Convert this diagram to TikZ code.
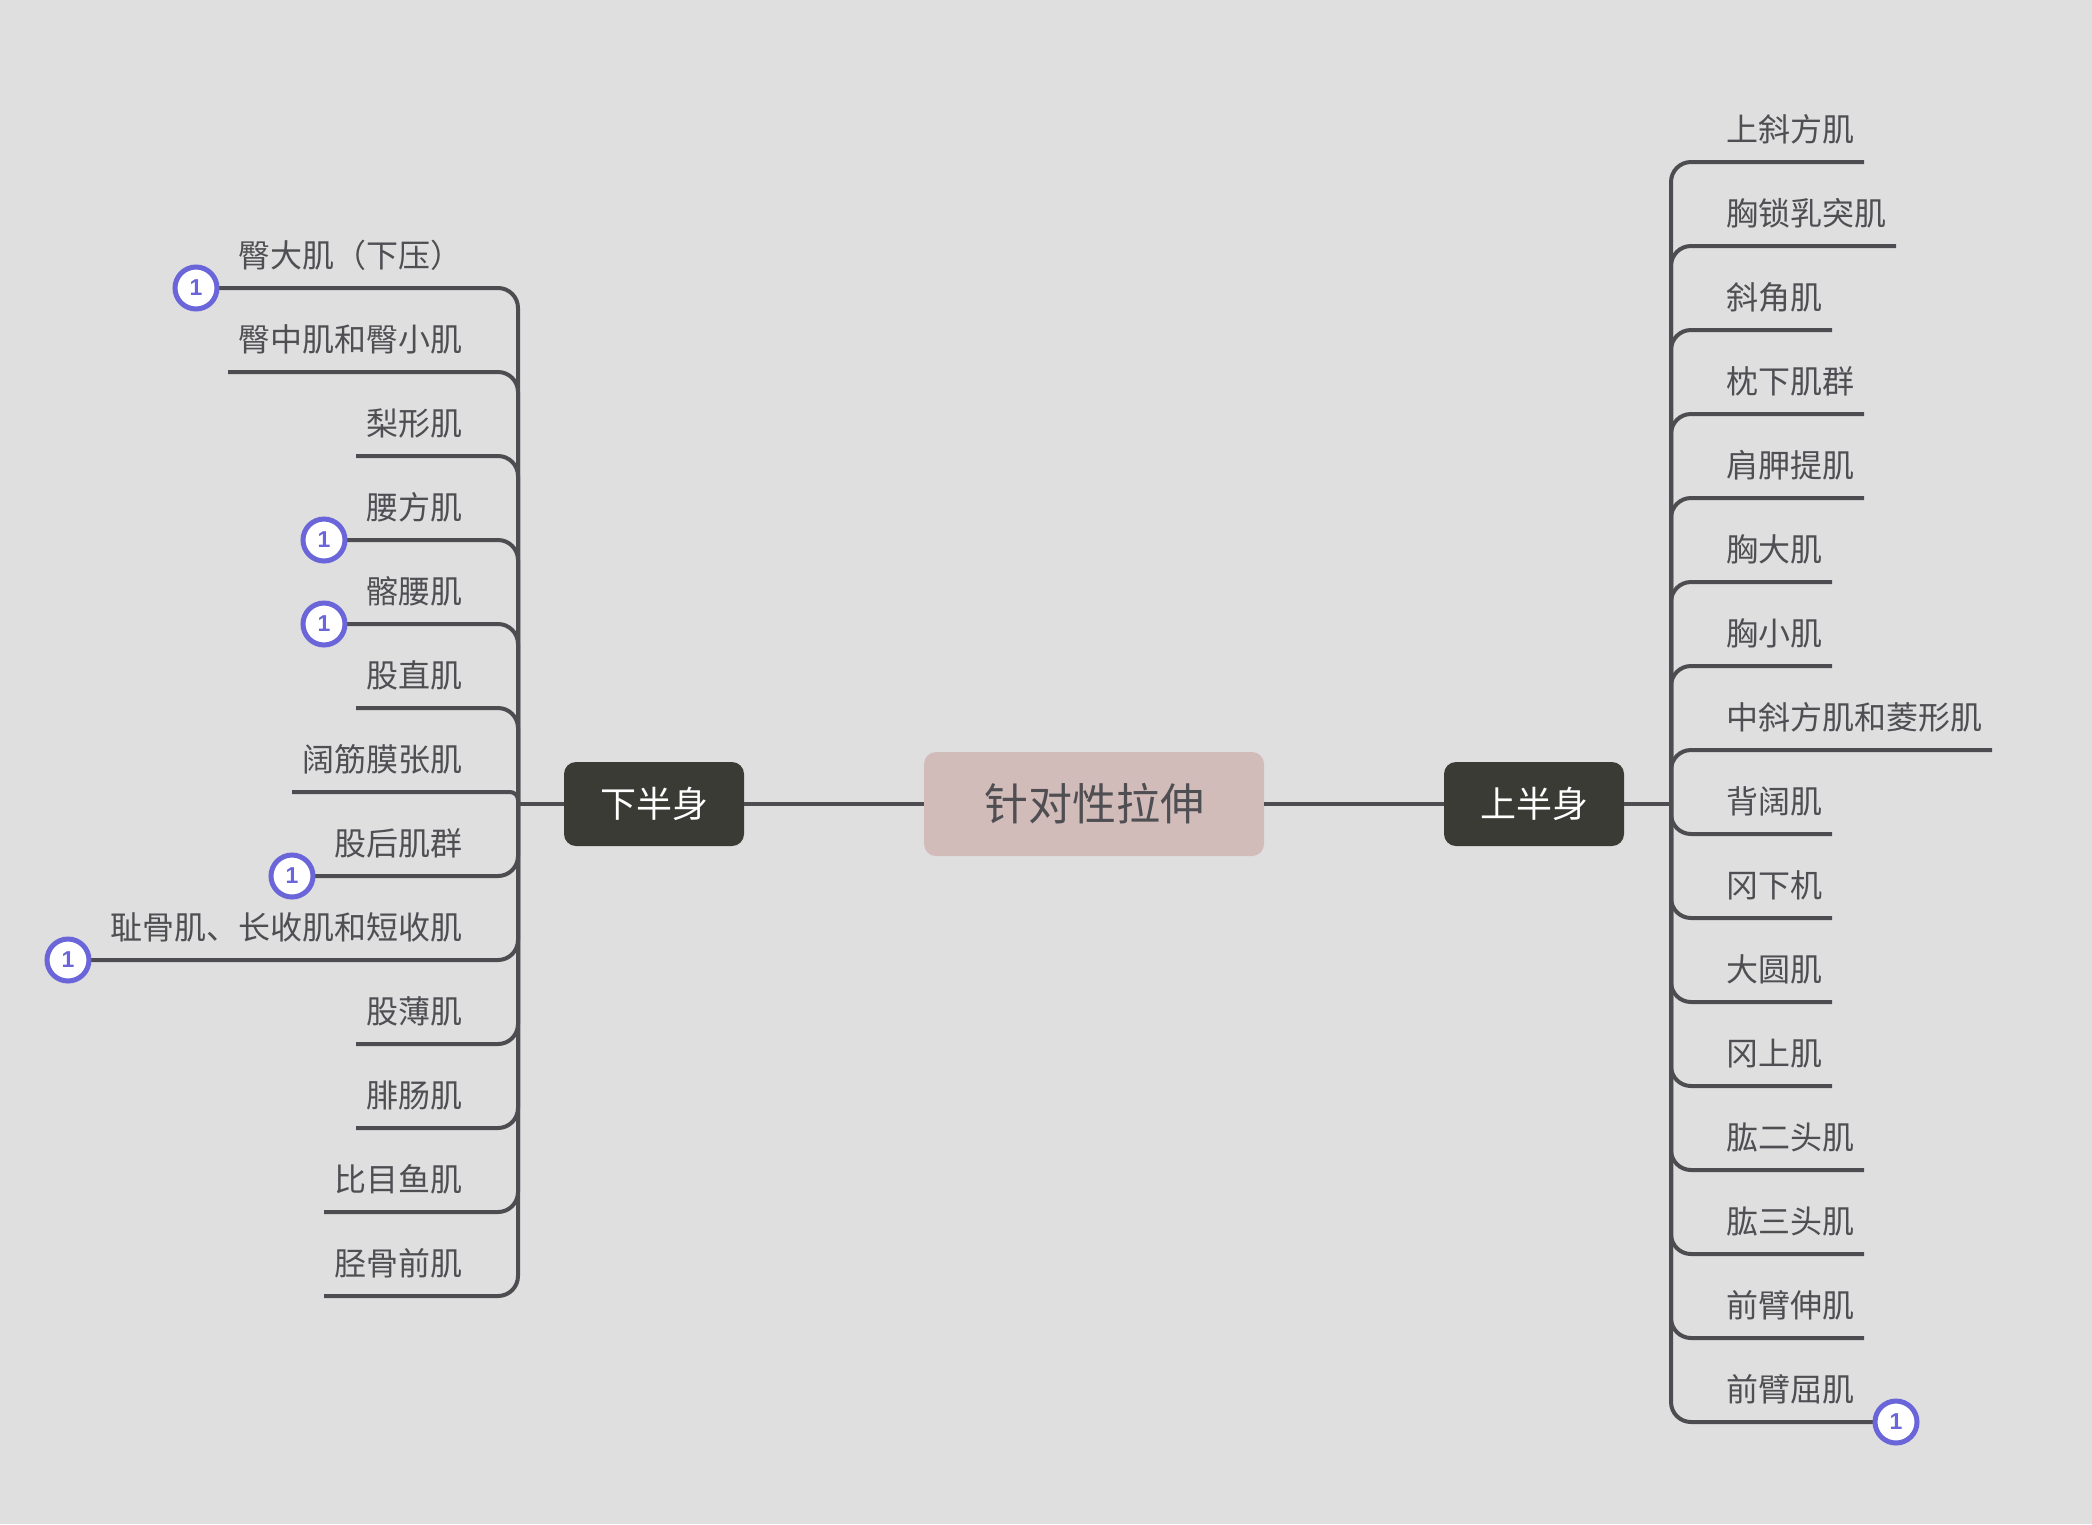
\documentclass[tikz,border=0pt]{standalone}
\usepackage{fontspec}
\setmainfont{Noto Sans CJK SC}
\newfontfamily\badgefont{Liberation Sans}
\definecolor{bgc}{HTML}{DFDFDF}
\definecolor{linec}{HTML}{4D4C50}
\definecolor{txtc}{HTML}{4F4E53}
\definecolor{rootc}{HTML}{D2BCBA}
\definecolor{darkc}{HTML}{393B34}
\definecolor{badgec}{HTML}{6A65D8}
\tikzset{
  conn/.style={draw=linec,line width=4pt},
  rootbox/.style={fill=rootc,rounded corners=12pt,minimum width=340pt,minimum height=104pt,inner sep=0pt,text=txtc,font=\fontsize{44}{44}\selectfont},
  mainbox/.style={fill=darkc,rounded corners=12pt,minimum width=180pt,minimum height=84pt,inner sep=0pt,text=white,font=\fontsize{36}{36}\selectfont},
  leaf/.style={inner sep=0pt,text=txtc,font=\fontsize{32}{32}\selectfont,text height=28pt,text depth=4pt},
  badge/.style={circle,draw=badgec,fill=white,line width=5pt,minimum size=42pt,inner sep=0pt,text=badgec,font=\fontsize{23}{23}\selectfont\badgefont\bfseries},
}
\begin{document}
\begin{tikzpicture}[x=1pt,y=-1pt]
\useasboundingbox[fill=bgc] (0,0) rectangle (2092,1524);
\node[rootbox] (root) at (1094,804) {\raisebox{1.3pt}{针对性拉伸}};
\node[mainbox] (up) at (1534,804) {\raisebox{1.3pt}{上半身}};
\node[mainbox] (down) at (654,804) {\raisebox{1.3pt}{下半身}};
\coordinate (hubL) at (518,804);
\coordinate (hubR) at (1671,804);
\draw[conn] (root) -- (up);
\draw[conn] (root) -- (down);
\draw[conn] (up) -- (hubR);
\draw[conn] (down) -- (hubL);
% left branch
\foreach \i/\x/\t in {0/196/臀大肌（下压）,1/228/臀中肌和臀小肌,2/356/梨形肌,3/324/腰方肌,4/324/髂腰肌,5/356/股直肌,6/292/阔筋膜张肌,7/292/股后肌群,8/68/耻骨肌、长收肌和短收肌,9/356/股薄肌,10/356/腓肠肌,11/324/比目鱼肌,12/324/胫骨前肌}{
  \pgfmathsetmacro{\ry}{288+84*\i}
  \pgfmathsetmacro{\rr}{min(20,abs(\ry-804)/1.5)}
  \coordinate (eL\i) at (\x,\ry);
  \node[leaf,anchor=east] (tL\i) at (462.3,\ry-33) {\t};
  \draw[conn,rounded corners=\rr pt] (hubL) -- (hubL |- eL\i) -- (eL\i);
}
% right branch
\foreach \i/\x/\t in {0/1864/上斜方肌,1/1896/胸锁乳突肌,2/1832/斜角肌,3/1864/枕下肌群,4/1864/肩胛提肌,5/1832/胸大肌,6/1832/胸小肌,7/1992/中斜方肌和菱形肌,8/1832/背阔肌,9/1832/冈下机,10/1832/大圆肌,11/1832/冈上肌,12/1864/肱二头肌,13/1864/肱三头肌,14/1864/前臂伸肌,15/1896/前臂屈肌}{
  \pgfmathsetmacro{\ry}{162+84*\i}
  \pgfmathsetmacro{\rr}{min(20,abs(\ry-804)/1.5)}
  \coordinate (eR\i) at (\x,\ry);
  \node[leaf,anchor=west] (tR\i) at (1726,\ry-33) {\t};
  \draw[conn,rounded corners=\rr pt] (hubR) -- (hubR |- eR\i) -- (eR\i);
}
% badges
\foreach \n in {eL0,eL3,eL4,eL7,eL8,eR15}{
  \node[badge] (b\n) at (\n) {1};
}
\end{tikzpicture}
\end{document}
